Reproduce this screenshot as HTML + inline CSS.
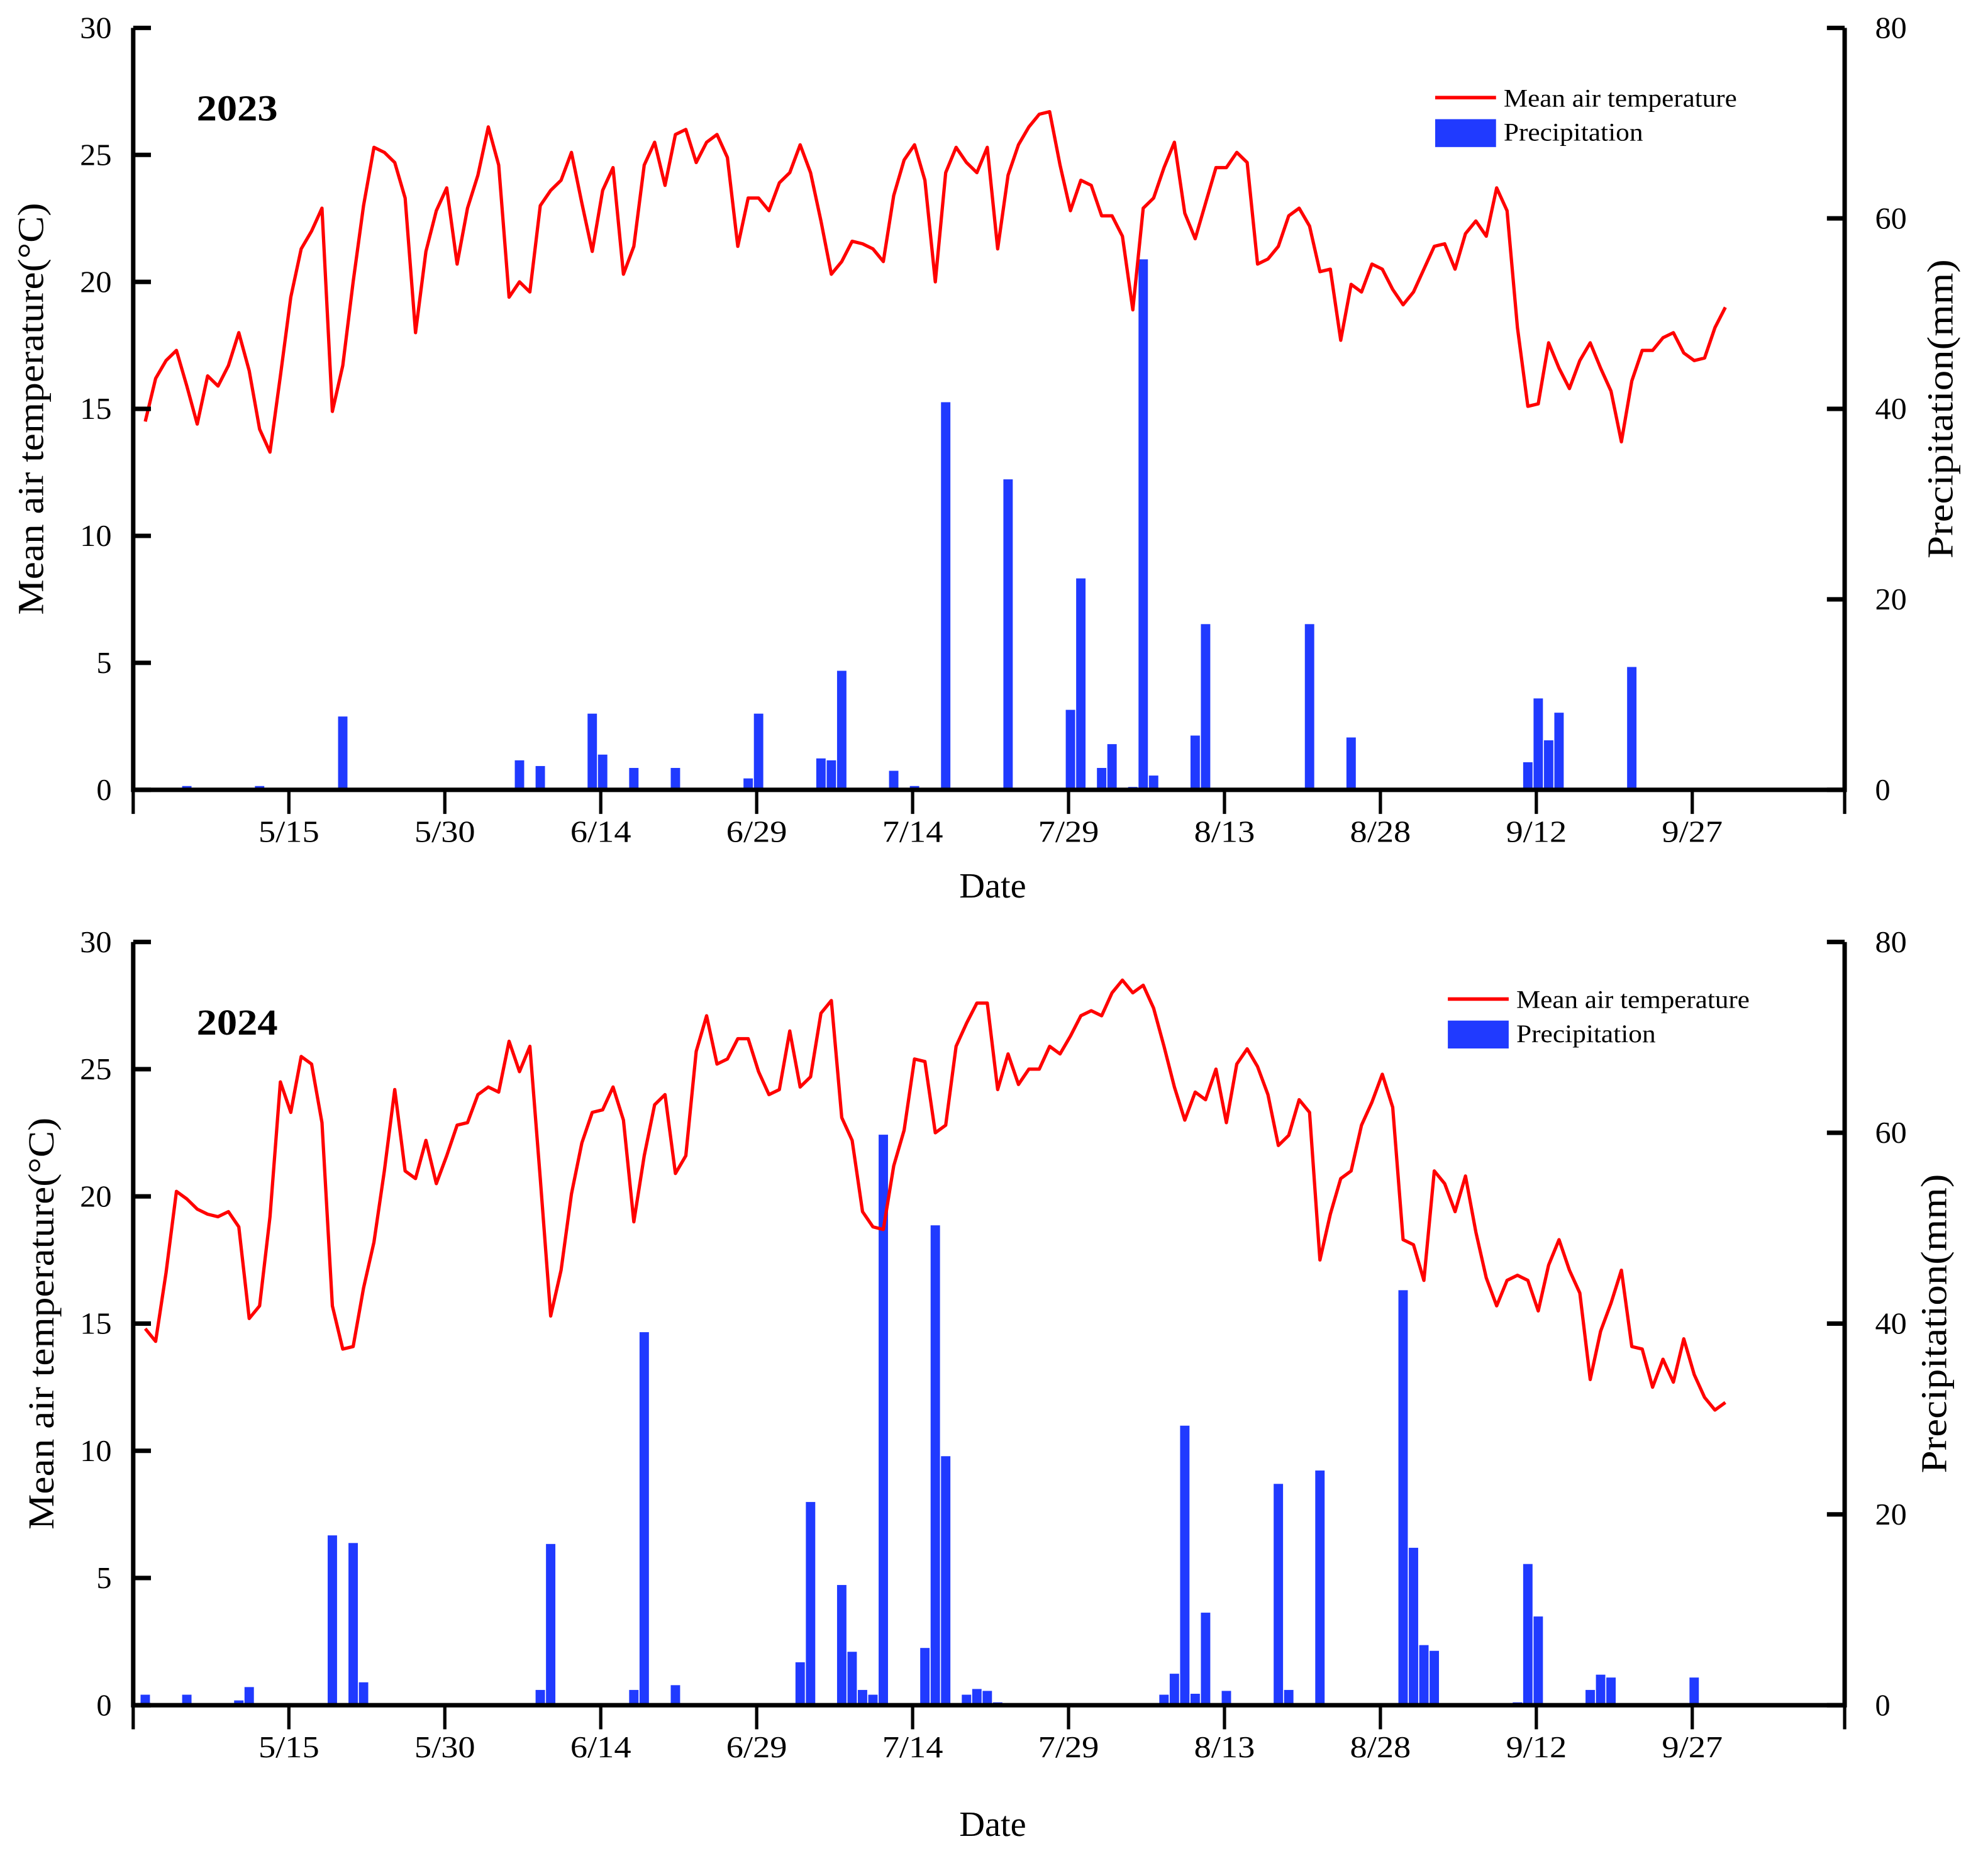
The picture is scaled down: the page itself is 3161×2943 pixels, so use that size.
<!DOCTYPE html>
<html><head><meta charset="utf-8"><style>html,body{margin:0;padding:0;background:#fff}svg{display:block}</style></head>
<body>
<svg id="chart" xmlns="http://www.w3.org/2000/svg" width="3161" height="2943" viewBox="0 0 1568 1460" font-family="'Liberation Serif', serif"></svg>
<script>
const tickLabels = ["5/15","5/30","6/14","6/29","7/14","7/29","8/13","8/28","9/12","9/27"];
const tickDays = [14,29,44,59,74,89,104,119,134,149];
const tempTicks = [0,5,10,15,20,25,30];
const precTicks = [0,20,40,60,80];
const temp2023 = [14.5,16.2,16.9,17.3,15.9,14.4,16.3,15.9,16.7,18.0,
16.5,14.2,13.3,16.3,19.4,21.3,22.0,22.9,14.9,16.7,
20,23,25.3,25.1,24.7,23.3,18.0,21.2,22.8,23.7,
20.7,22.9,24.2,26.1,24.6,19.4,20,19.6,23,23.6,
24,25.1,23.1,21.2,23.6,24.5,20.3,21.4,24.6,25.5,
23.8,25.8,26,24.7,25.5,25.8,24.9,21.4,23.3,23.3,
22.8,23.9,24.3,25.4,24.3,22.4,20.3,20.8,21.6,21.5,
21.3,20.8,23.4,24.8,25.4,24,20,24.3,25.3,24.7,
24.3,25.3,21.3,24.2,25.4,26.1,26.6,26.7,24.6,22.8,
24,23.8,22.6,22.6,21.8,18.9,22.9,23.3,24.5,25.5,
22.7,21.7,23.1,24.5,24.5,25.1,24.7,20.7,20.9,21.4,
22.6,22.9,22.2,20.4,20.5,17.7,19.9,19.6,20.7,20.5,
19.7,19.1,19.6,20.5,21.4,21.5,20.5,21.9,22.4,21.8,
23.7,22.8,18.2,15.1,15.2,17.6,16.6,15.8,16.9,17.6,
16.6,15.7,13.7,16.1,17.3,17.3,17.8,18.0,17.2,16.9,
17,18.2,19];
const temp2024 = [14.8,14.3,17,20.2,19.9,19.5,19.3,19.2,19.4,18.8,
15.2,15.7,19.2,24.5,23.3,25.5,25.2,22.9,15.7,14,
14.1,16.4,18.2,21,24.2,21,20.7,22.2,20.5,21.6,
22.8,22.9,24,24.3,24.1,26.1,24.9,25.9,20.7,15.3,
17.1,20.1,22.1,23.3,23.4,24.3,23,19,21.6,23.6,
24,20.9,21.6,25.7,27.1,25.2,25.4,26.2,26.2,24.9,
24,24.2,26.5,24.3,24.7,27.2,27.7,23.1,22.2,19.4,
18.8,18.7,21.2,22.6,25.4,25.3,22.5,22.8,25.9,26.8,
27.6,27.6,24.2,25.6,24.4,25,25,25.9,25.6,26.3,
27.1,27.3,27.1,28,28.5,28,28.3,27.4,25.9,24.3,
23,24.1,23.8,25,22.9,25.2,25.8,25.1,24,22,
22.4,23.8,23.3,17.5,19.3,20.7,21,22.8,23.7,24.8,
23.5,18.3,18.1,16.7,21,20.5,19.4,20.8,18.6,16.8,
15.7,16.7,16.9,16.7,15.5,17.3,18.3,17.1,16.2,12.8,
14.7,15.8,17.1,14.1,14,12.5,13.6,12.7,14.4,13,
12.1,11.6,11.9];
const precDays2023 = [4,11,12,19,36,38,43,44,47,51,58,59,63,65,66,67,72,74,77,83,89,90,92,93,95,96,97,101,102,112,116,133,134,135,136,143];
const precVals2023 = [0.4,0.4,0.2,7.7,3.1,2.5,8.0,3.7,2.3,2.3,1.2,8.0,0.2,3.3,3.1,12.5,2.0,0.4,40.7,32.6,8.4,22.2,2.3,4.8,0.3,55.7,1.5,5.7,17.4,17.4,5.5,2.9,9.6,5.2,8.1,12.9];
const precDays2024 = [0,4,9,10,18,20,21,38,39,40,47,48,51,63,64,67,68,69,70,71,75,76,77,79,80,81,82,97,98,99,100,101,102,104,109,110,113,121,122,123,124,132,133,134,135,139,140,141,149,150];
const precVals2024 = [1.1,1.1,0.5,1.9,17.8,17.0,2.4,1.6,16.9,0.1,1.6,39.1,2.1,4.5,21.3,12.6,5.6,1.6,1.1,59.8,6.0,50.3,26.1,1.1,1.7,1.5,0.3,0.2,1.1,3.3,29.3,1.2,9.7,1.5,23.2,1.6,24.6,43.5,16.5,6.3,5.7,0.3,14.8,9.3,0.2,1.6,3.2,2.9,2.9,0.2];

const NS='http://www.w3.org/2000/svg';
const svg=document.getElementById('chart');
function mk(tag,attrs,parent){const e=document.createElementNS(NS,tag);for(const k in attrs)e.setAttribute(k,attrs[k]);(parent||svg).appendChild(e);return e;}
const L=105,R=1455,DAY=8.2,D0=114.5;
const xs=d=>D0+d*DAY;

function panel(top,bottom,year,temps,pDays,pVals,legY,legX,ytX,ptX,dateY){
  const g=mk('g',{});
  
  
  const yt=v=>bottom-(v/30)*(bottom-top);
  const yp=v=>bottom-(v/80)*(bottom-top);
  pDays.forEach((d,i)=>{
    const r=mk('rect',{x:xs(d)-3.7,y:yp(pVals[i]),width:7.4,height:bottom-yp(pVals[i]),fill:'#203aff'},g);
    
    
  });
  const pts=temps.map((t,i)=>xs(i).toFixed(1)+','+yt(t).toFixed(1)).join(' ');
  const pl=mk('polyline',{points:pts,fill:'none',stroke:'#ff0000','stroke-width':2.6,'stroke-linejoin':'round'},g);
  
  
  const ax=mk('path',{d:`M${L},${top} V${bottom} H${R} V${top}`,fill:'none',stroke:'#000','stroke-width':3.5},g);
  
  
  mk('line',{x1:L,y1:bottom,x2:L,y2:bottom+19,stroke:'#000','stroke-width':2.6},g);
  mk('line',{x1:R,y1:bottom,x2:R,y2:bottom+19,stroke:'#000','stroke-width':2.6},g);
  tempTicks.forEach(v=>{
    mk('line',{x1:L,y1:yt(v),x2:L+14,y2:yt(v),stroke:'#000','stroke-width':3.5},g);
    const t=mk('text',{x:L-17,y:yt(v)+8,'text-anchor':'end','font-size':24,textLength:v<10?12:25,lengthAdjust:'spacingAndGlyphs'},g);
    t.textContent=v;
    
    
  });
  precTicks.forEach(v=>{
    mk('line',{x1:R,y1:yp(v),x2:R-14,y2:yp(v),stroke:'#000','stroke-width':3.5},g);
    const t=mk('text',{x:R+24,y:yp(v)+8,'text-anchor':'start','font-size':24,textLength:v<10?12:25,lengthAdjust:'spacingAndGlyphs'},g);
    t.textContent=v;
    
    
  });
  tickDays.forEach((d,i)=>{
    const x=D0+d*DAY-1.5;
    mk('line',{x1:x,y1:bottom,x2:x,y2:bottom+19,stroke:'#000','stroke-width':2.6},g);
    const t=mk('text',{x:x,y:bottom+41,'text-anchor':'middle','font-size':24,textLength:48,lengthAdjust:'spacingAndGlyphs'},g);
    t.textContent=tickLabels[i];
    
    
  });
  const xt=mk('text',{x:783,y:dateY,'text-anchor':'middle','font-size':28},g);
  xt.textContent='Date';
  
  
  const cy=(top+bottom)/2;
  const lt=mk('text',{x:ytX,y:cy,'text-anchor':'middle','font-size':29,textLength:325,lengthAdjust:'spacingAndGlyphs',transform:`rotate(-90 ${ytX} ${cy})`},g);
  lt.textContent='Mean air temperature(°C)';
  
  
  const rt=mk('text',{x:ptX,y:cy,'text-anchor':'middle','font-size':29,textLength:236,lengthAdjust:'spacingAndGlyphs',transform:`rotate(-90 ${ptX} ${cy})`},g);
  rt.textContent='Precipitation(mm)';
  
  
  const yr=mk('text',{x:155,y:top+73,'font-size':29,'font-weight':'bold',textLength:64,lengthAdjust:'spacingAndGlyphs'},g);
  yr.textContent=year;
  
  
  mk('line',{x1:legX,y1:legY,x2:legX+48,y2:legY,stroke:'#ff0000','stroke-width':2.8},g);
  const l1=mk('text',{x:legX+54,y:legY+7,'font-size':20,textLength:184,lengthAdjust:'spacingAndGlyphs'},g);
  l1.textContent='Mean air temperature';
  
  
  mk('rect',{x:legX,y:legY+17,width:48,height:22,fill:'#203aff'},g);
  const l2=mk('text',{x:legX+54,y:legY+34,'font-size':20,textLength:110,lengthAdjust:'spacingAndGlyphs'},g);
  l2.textContent='Precipitation';
  
  
}
panel(22,623,'2023',temp2023,precDays2023,precVals2023,77,1132,34,1540,708);
panel(743,1345,'2024',temp2024,precDays2024,precVals2024,788,1142,42,1535,1448);
</script>
</body></html>
